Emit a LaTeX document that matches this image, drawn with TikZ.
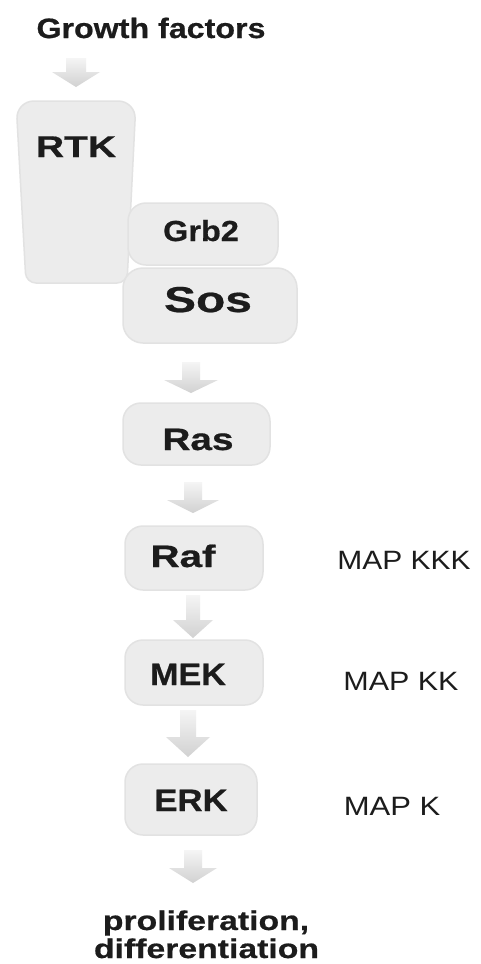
\documentclass[tikz,border=0pt]{standalone}
\usepackage{fontspec}
\setmainfont{Liberation Sans}[BoldFeatures={FakeBold=0.6}]
\usepackage{graphicx}
\usetikzlibrary{calc}

\definecolor{ink}{HTML}{1C1C1C}
\definecolor{boxfill}{HTML}{ECECEC}
\definecolor{boxrim}{HTML}{E2E2E2}

% label text: size (pt), horizontal stretch, text
\newcommand\lab[3]{\scalebox{#2}[1]{\fontsize{#1pt}{#1pt}\selectfont #3}}
% block arrow: name, x, top, head start, tip, head half width, shaft half width
\newcommand\blockarrow[7]{%
  \coordinate (#1) at (#2,#3);
  \shade[arrowshade] ({#2-#7},#3) -- ({#2+#7},#3) -- ({#2+#7},#4) -- ({#2+#6},#4)
    -- (#2,#5) -- ({#2-#6},#4) -- ({#2-#7},#4) -- cycle;}

\begin{document}
\begin{tikzpicture}[x=1pt,y=-1pt,
  lbl/.style={anchor=base, inner sep=0pt, text=ink},
  box/.style={rectangle, rounded corners=18pt, fill=boxfill, draw=boxrim, line width=1.5pt, inner sep=0pt},
  arrowshade/.style={top color=black!4, bottom color=black!18}]
\useasboundingbox[fill=white] (0,0) rectangle (480,964);

% receptor with tapered body
\path[fill=boxfill, draw=boxrim, line width=1.5pt]
  (21,192) [rounded corners=18pt] -- (16,101) -- (136,101) -- (131.5,192)
  [rounded corners=10pt] -- (127,283) -- (26,283) -- cycle;
\coordinate (rtkbox) at (76,192);

% adaptor and exchange factor boxes
\node[box, minimum width=150pt, minimum height=62pt] (grb2box) at (203,234) {};
\node[box, minimum width=174pt, minimum height=75pt, rounded corners=20pt] (sosbox) at (210,305.5) {};

% kinase cascade boxes
\node[box, minimum width=147pt, minimum height=62pt] (rasbox) at (196.5,434) {};
\node[box, minimum width=138pt, minimum height=64pt] (rafbox) at (194,558) {};
\node[box, minimum width=138pt, minimum height=65pt] (mekbox) at (194,672.5) {};
\node[box, minimum width=132pt, minimum height=71pt] (erkbox) at (191,799.5) {};

% arrows between stages
\blockarrow{a1}{76}{58}{72}{87}{24}{10}
\blockarrow{a2}{191}{362}{380}{393}{27}{9}
\blockarrow{a3}{193}{482}{500}{513}{26}{9}
\blockarrow{a4}{193}{595}{620}{638}{20}{7}
\blockarrow{a5}{188}{710}{737}{757}{22}{8}
\blockarrow{a6}{193}{850}{868}{883}{24}{9}

% labels
\node[lbl] (gf) at (151,38) {\lab{28}{1.15}{\bfseries Growth factors}};
\node[lbl] (rtk) at (76,157) {\lab{30}{1.3}{\bfseries RTK}};
\node[lbl] (grb2) at (201,241) {\lab{29}{1.12}{\bfseries Grb2}};
\node[lbl] (sos) at (208,312) {\lab{36}{1.33}{\bfseries Sos}};
\node[lbl] (ras) at (198,450) {\lab{31}{1.25}{\bfseries Ras}};
\node[lbl] (raf) at (183,567) {\lab{31}{1.3}{\bfseries Raf}};
\node[lbl] (mek) at (188,685) {\lab{31}{1.1}{\bfseries MEK}};
\node[lbl] (erk) at (191,811) {\lab{31}{1.12}{\bfseries ERK}};

\node[lbl] (kkk) at (404,569) {\lab{26.5}{1.13}{MAP KKK}};
\node[lbl] (kk) at (401,690) {\lab{26.5}{1.15}{MAP KK}};
\node[lbl] (k) at (392,815) {\lab{26.5}{1.17}{MAP K}};

\node[lbl] (prolif) at (206,930) {\lab{27}{1.25}{\bfseries proliferation,}};
\node[lbl] (diff) at (206.5,958) {\lab{27}{1.25}{\bfseries differentiation}};
\end{tikzpicture}
\end{document}
